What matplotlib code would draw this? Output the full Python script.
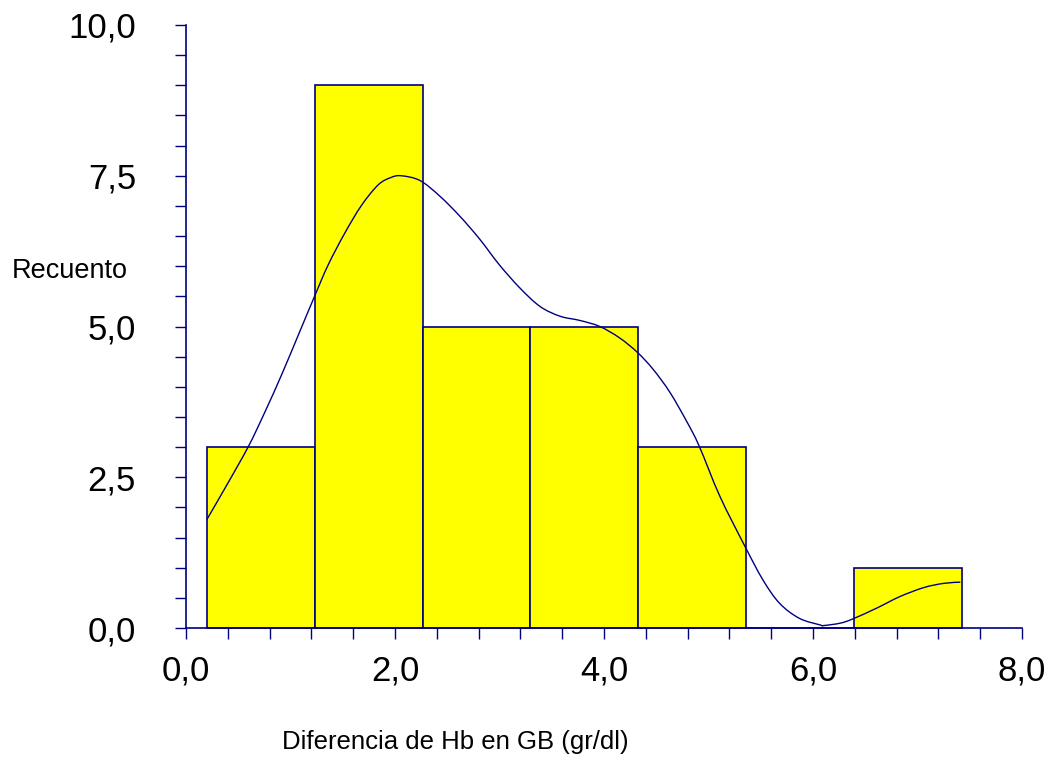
import matplotlib
matplotlib.use("Agg")
import matplotlib.pyplot as plt
from matplotlib.path import Path
from matplotlib.patches import PathPatch
from matplotlib.ticker import MultipleLocator, FuncFormatter

plt.rcParams['font.family'] = ['Liberation Sans', 'DejaVu Sans']

navy = '#000080'

# histogram bins (Diferencia de Hb en GB) and counts
bin_start = 0.20
bin_width = 1.032
counts = [3, 9, 5, 5, 3, 0, 1]

# smoothed density curve, scaled to counts
curve_x = [0.20, 0.40, 0.60, 0.76, 0.92, 1.08, 1.23, 1.36, 1.52, 1.68, 1.84,
           1.96, 2.06, 2.24, 2.43, 2.62, 2.81, 3.00, 3.20, 3.39, 3.58, 3.77,
           3.96, 4.15, 4.32, 4.47, 4.63, 4.79, 4.91, 5.11, 5.35, 5.52, 5.68,
           5.87, 6.07, 6.10, 6.26, 6.38, 6.61, 6.83, 7.06, 7.25, 7.41]
curve_y = [1.80, 2.40, 3.02, 3.60, 4.22, 4.88, 5.50, 6.02, 6.55, 7.01, 7.35,
           7.47, 7.50, 7.42, 7.16, 6.83, 6.45, 6.02, 5.63, 5.33, 5.17, 5.10,
           5.00, 4.81, 4.57, 4.29, 3.91, 3.43, 3.02, 2.18, 1.35, 0.80, 0.41,
           0.16, 0.05, 0.04, 0.08, 0.15, 0.33, 0.52, 0.67, 0.74, 0.76]


def smooth_path(xs, ys):
    # Catmull-Rom through the points, written as cubic Bezier segments
    pts = list(zip(xs, ys))
    verts = [pts[0]]
    codes = [Path.MOVETO]
    for i in range(len(pts) - 1):
        p0 = pts[i - 1] if i > 0 else pts[i]
        p1, p2 = pts[i], pts[i + 1]
        p3 = pts[i + 2] if i + 2 < len(pts) else pts[i + 1]
        c1 = (p1[0] + (p2[0] - p0[0]) / 6, p1[1] + (p2[1] - p0[1]) / 6)
        c2 = (p2[0] - (p3[0] - p1[0]) / 6, p2[1] - (p3[1] - p1[1]) / 6)
        verts += [c1, c2, p2]
        codes += [Path.CURVE4] * 3
    return Path(verts, codes)


fig = plt.figure(figsize=(10.48, 7.72), dpi=100)
ax = fig.add_axes([186 / 1048, 1 - 628 / 772, (1022 - 186) / 1048, (628 - 25) / 772])

lefts = [bin_start + i * bin_width for i in range(len(counts))]
ax.bar(lefts, counts, width=bin_width, align='edge', color='#FFFF00',
       edgecolor=navy, linewidth=1.2, clip_on=False, zorder=2)
ax.add_patch(PathPatch(smooth_path(curve_x, curve_y), facecolor='none',
                       edgecolor=navy, linewidth=1.0, zorder=3))

ax.set_xlim(0, 8)
ax.set_ylim(0, 10)
for side in ['top', 'right']:
    ax.spines[side].set_visible(False)
for side in ['left', 'bottom']:
    ax.spines[side].set_color(navy)
    ax.spines[side].set_linewidth(1.2)

comma = FuncFormatter(lambda v, p: f"{v:.1f}".replace('.', ','))
ax.xaxis.set_major_locator(MultipleLocator(2.0))
ax.xaxis.set_minor_locator(MultipleLocator(0.4))
ax.yaxis.set_major_locator(MultipleLocator(2.5))
ax.yaxis.set_minor_locator(MultipleLocator(0.5))
ax.xaxis.set_major_formatter(comma)
ax.yaxis.set_major_formatter(comma)

ax.tick_params(which='both', direction='out', color=navy, width=1.0, length=8,
               labelsize=25, labelcolor='black')
ax.tick_params(axis='x', which='major', pad=11)
ax.tick_params(axis='y', which='major', pad=28)

fig.text(12 / 1048, 1 - 271 / 772, 'Recuento', fontsize=19.5, ha='left', va='center')
fig.text(455 / 1048, 1 - 742 / 772, 'Diferencia de Hb en GB (gr/dl)', fontsize=18.5,
         ha='center', va='center')

fig.savefig('out.png', dpi=100)
